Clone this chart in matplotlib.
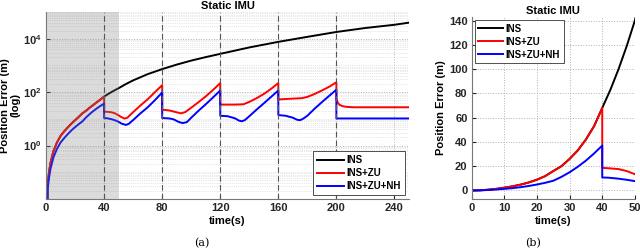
import matplotlib
matplotlib.use("Agg")
import matplotlib.pyplot as plt
from matplotlib.ticker import LogLocator, NullFormatter

plt.rcParams['font.family'] = ['Liberation Sans', 'DejaVu Sans']
plt.rcParams['font.weight'] = 'bold'
plt.rcParams['mathtext.fontset'] = 'custom'
plt.rcParams['mathtext.rm'] = 'Liberation Sans:bold'
plt.rcParams['mathtext.bf'] = 'Liberation Sans:bold'

# data (position error in metres)
t_early = [0, 1, 2, 3, 5, 7.5, 10, 12.5, 15, 17.5, 20, 22.5, 25, 27.5, 30, 32.5, 35, 37.5, 40]
zu_early = [0, 0.03, 0.1, 0.22, 0.6, 1.3, 2.3, 3.4, 4.8, 6.6, 8.9, 11.8, 16, 20, 26, 33, 42, 53, 68]
nh_early = [0, 0.02, 0.06, 0.13, 0.35, 0.75, 1.3, 1.9, 2.7, 3.7, 4.9, 6.3, 8.0, 11.2, 15, 19.5, 24.6, 30.5, 37]

t_ins_late = [42.5, 45, 47.5, 50, 55, 60, 70, 80, 90, 100, 110, 120, 140, 160, 180, 200, 220, 240, 250]
ins_late = [83, 100, 119, 140, 200, 275, 470, 725, 1070, 1510, 2040, 2700, 4700, 7600, 11700, 17800, 25100, 33100, 39800]

t_zu_late = [40, 42, 45, 47.5, 50, 52, 54, 56, 60, 65, 70, 75, 80,
             80, 85, 90, 93, 96, 100, 105, 110, 115, 120,
             120, 125, 130, 133, 136, 140, 145, 150, 155, 160,
             160, 165, 170, 176, 180, 185, 190, 195, 200,
             200, 201, 202, 204, 207, 212, 250]
zu_late = [18.6, 18.3, 17.6, 16, 13.4, 11.5, 10.2, 11, 17.8, 31.6, 53.7, 100, 182,
           22, 20.5, 17.5, 16, 18, 26, 42, 69, 120, 218,
           34, 34, 34, 34.5, 35, 43, 59, 85, 132, 218,
           53, 55, 57, 59, 66, 85, 115, 158, 233,
           55, 40, 34, 30, 28, 27, 27]

t_nh_late = [40, 42, 45, 47.5, 50, 52, 55, 57, 60, 65, 70, 75, 80,
             80, 85, 88, 91, 94, 97, 100, 105, 110, 115, 120,
             120, 125, 130, 133, 135, 137, 140, 145, 150, 155, 160,
             160, 165, 170, 173, 175, 177, 180, 185, 190, 195, 200,
             200, 250]
nh_late = [10.7, 10.5, 9.7, 8.8, 7.7, 6.6, 5.9, 6.5, 9, 16, 27, 50, 97,
           10.7, 10.3, 9.5, 7.8, 6.9, 7.5, 11, 20, 35, 63, 115,
           13, 12.5, 10.5, 8.5, 8.1, 9, 12.5, 22, 38, 66, 115,
           13.8, 13, 11, 9.2, 8.9, 10, 13, 24, 42, 72, 123,
           10.3, 10.3]

zupt_times = [40, 80, 120, 160, 200]

t_ins = t_early + t_ins_late
ins = zu_early + ins_late
t_zu = t_early + t_zu_late
zu = zu_early + zu_late
t_nh = t_early + t_nh_late
nh = nh_early + nh_late

fig = plt.figure(figsize=(6.4, 2.49), dpi=100)
ax1 = fig.add_axes([0.072, 0.201, 0.567, 0.751])
ax2 = fig.add_axes([0.737, 0.201, 0.255, 0.731])

for ax in (ax1, ax2):
    ax.plot(t_ins, ins, color='black', lw=1.4, label='INS')
    ax.plot(t_zu, zu, color='#ff0000', lw=1.4, label='INS+ZU')
    ax.plot(t_nh, nh, color='#0000ff', lw=1.4, label='INS+ZU+NH')
    for s in ['top', 'right']:
        ax.spines[s].set_visible(False)
    for s in ['left', 'bottom']:
        ax.spines[s].set_color('#777777')
    ax.tick_params(direction='in', length=3, labelsize=8, colors='#262626', pad=3)
    ax.set_title('Static IMU', fontsize=8, fontweight='bold', pad=2)
    ax.set_xlabel('time(s)', fontsize=8, fontweight='bold', labelpad=2)

# left: log scale, translucent shading over the first 50 s
ax1.axvspan(0, 50, color='#808080', alpha=0.28, lw=0, zorder=3)
for t in zupt_times:
    ax1.axvline(t, color='#555555', ls=(0, (5, 3)), lw=0.8, zorder=4)
ax1.set_yscale('log')
ax1.set_xlim(0, 250)
ax1.set_ylim(1e-2, 1e5)
ax1.set_xticks([0, 40, 80, 120, 160, 200, 240])
ax1.set_yticks([1, 1e2, 1e4])
ax1.set_yticklabels([r'$10^0$', r'$10^2$', r'$10^4$'])
ax1.yaxis.set_minor_locator(LogLocator(base=10, subs=range(1, 10), numticks=20))
ax1.yaxis.set_minor_formatter(NullFormatter())
ax1.tick_params(which='minor', length=0)
ax1.grid(True, which='major', ls=':', color='#b0b0b0', lw=0.7)
ax1.grid(True, which='minor', axis='y', ls=':', color='#d0d0d0', lw=0.5)
ax1.set_ylabel('Position Error (m)\n(log)', fontsize=8, fontweight='bold', labelpad=2, linespacing=1.1)
leg1 = ax1.legend(loc='lower right', handlelength=2.8, borderaxespad=0.4,
                  fancybox=False, edgecolor='#333333', framealpha=1,
                  prop={'weight': 'bold', 'size': 7}, labelspacing=0.3, handletextpad=0.3)
leg1.get_frame().set_linewidth(0.6)
leg1.set_zorder(5)

# right: linear zoom on first 50 s
ax2.set_xlim(0, 50)
ax2.set_ylim(-7, 143)
ax2.set_xticks(range(0, 51, 10))
ax2.set_yticks(range(0, 141, 20))
ax2.grid(True, ls=':', color='#b0b0b0', lw=0.7)
ax2.set_ylabel('Position Error (m)', fontsize=8, fontweight='bold', labelpad=2)
leg2 = ax2.legend(loc='upper left', handlelength=2.5, borderaxespad=0.3,
                  fancybox=False, edgecolor='#333333', framealpha=1,
                  prop={'weight': 'bold', 'size': 7}, labelspacing=0.3, handletextpad=0.3)
leg2.get_frame().set_linewidth(0.6)

fig.text(0.316, 0.024, '(a)', family='DejaVu Serif', fontsize=8, fontweight='normal', ha='center', va='center')
fig.text(0.833, 0.024, '(b)', family='DejaVu Serif', fontsize=8, fontweight='normal', ha='center', va='center')

fig.savefig('out.png', dpi=100)
